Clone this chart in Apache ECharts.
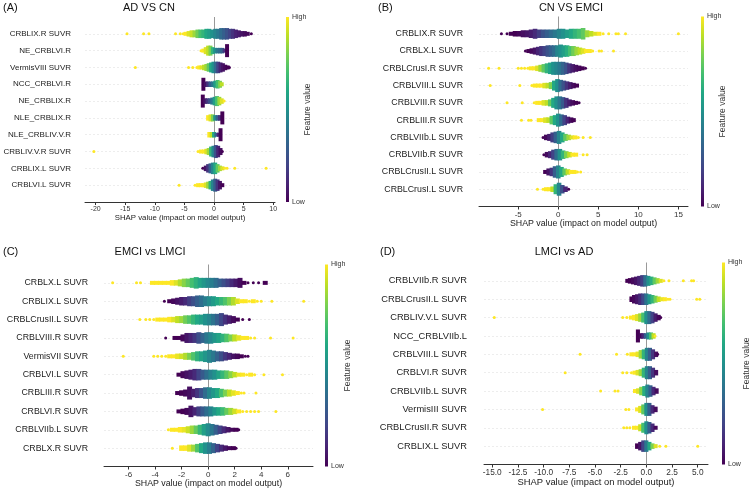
<!DOCTYPE html>
<html>
<head>
<meta charset="utf-8">
<title>SHAP summary</title>
<script src="https://cdn.jsdelivr.net/npm/echarts@6/dist/echarts.min.js"></script>
<style>
  html, body { margin: 0; padding: 0; background: #fff; }
  #main { width: 750px; height: 491px; }
</style>
</head>
<body>
<div id="main"></div>
<script>
// feature names (top to bottom) per panel
const featA = ['CRBLIX.R SUVR', 'NE_CRBLVI.R', 'VermisVIII SUVR', 'NCC_CRBLVI.R', 'NE_CRBLIX.R',
  'NLE_CRBLIX.R', 'NLE_CRBLIV.V.R', 'CRBLIV.V.R SUVR', 'CRBLIX.L SUVR', 'CRBLVI.L SUVR'];
const featB = ['CRBLIX.R SUVR', 'CRBLX.L SUVR', 'CRBLCrusI.R SUVR', 'CRBLVIII.L SUVR', 'CRBLVIII.R SUVR',
  'CRBLIII.R SUVR', 'CRBLVIIb.L SUVR', 'CRBLVIIb.R SUVR', 'CRBLCrusII.L SUVR', 'CRBLCrusI.L SUVR'];
const featC = ['CRBLX.L SUVR', 'CRBLIX.L SUVR', 'CRBLCrusII.L SUVR', 'CRBLVIII.R SUVR', 'VermisVII SUVR',
  'CRBLVI.L SUVR', 'CRBLIII.R SUVR', 'CRBLVI.R SUVR', 'CRBLVIIb.L SUVR', 'CRBLX.R SUVR'];
const featD = ['CRBLVIIb.R SUVR', 'CRBLCrusII.L SUVR', 'CRBLIV.V.L SUVR', 'NCC_CRBLVIIb.L', 'CRBLVIII.L SUVR',
  'CRBLVI.R SUVR', 'CRBLVIIb.L SUVR', 'VermisIII SUVR', 'CRBLCrusII.R SUVR', 'CRBLIX.L SUVR'];

// x tick labels
const ticksA = [-20, -15, -10, -5, 0, 5, 10];
const ticksB = [-5, 0, 5, 10, 15];
const ticksC = [-6, -4, -2, 0, 2, 4, 6];
const ticksD = [-15, -12.5, -10, -7.5, -5, -2.5, 0, 2.5, 5];

// swarm: [shap value, stack count, feature value 0..1]
const rowsA = [
  [[-14.7,1,1],[-11.9,1,1],[-11.0,1,1],[-6.5,1,1],[-5.7,1,1],[-5.2,1,1],[-4.8,2,1],[-4.3,3,0.95],[-3.8,4,0.92],[-3.3,4,0.85],[-2.8,5,0.78],[-2.3,5,0.7],[-1.8,5,0.65],[-1.3,6,0.6],[-0.8,6,0.55],[-0.3,5,0.5],[0.2,6,0.45],[0.7,6,0.4],[1.2,7,0.35],[1.7,7,0.3],[2.2,7,0.25],[2.7,6,0.2],[3.2,6,0.15],[3.7,5,0.1],[4.2,4,0.08],[4.7,3,0.05],[5.2,3,0.03],[5.7,2,0.02],[6.3,1,0]],
  [[-2.2,1,1],[-1.8,2,1],[-1.4,4,0.95],[-1.0,6,0.9],[-0.6,6,0.8],[-0.2,4,0.65],[0.2,3,0.5],[0.6,3,0.4],[1.0,3,0.35],[1.4,3,0.3],[1.8,2,0.15],[2.2,8,0]],
  [[-13.3,1,1],[-4.3,1,1],[-3.6,1,1],[-2.9,1,1],[-2.5,2,1],[-2.1,2,0.95],[-1.7,3,0.9],[-1.3,4,0.85],[-0.9,5,0.75],[-0.5,6,0.6],[-0.1,7,0.5],[0.3,7,0.35],[0.7,7,0.2],[1.1,6,0.1],[1.5,5,0.05],[1.9,3,0.02],[2.3,2,0],[2.6,1,0]],
  [[-1.8,8,0],[-1.4,3,0.05],[-1.0,3,0.15],[-0.6,3,0.3],[-0.2,3,0.4],[0.2,4,0.55],[0.6,5,0.7],[1.0,4,0.8],[1.3,2,0.9]],
  [[-1.9,8,0],[-1.5,3,0.05],[-1.1,3,0.15],[-0.7,3,0.25],[-0.3,4,0.4],[0.1,5,0.55],[0.5,6,0.7],[0.9,5,0.85],[1.3,3,0.95],[1.7,1,1]],
  [[-1.0,3,1],[-0.6,4,0.95],[-0.2,4,0.8],[0.2,3,0.5],[0.6,3,0.3],[1.0,3,0.15],[1.4,8,0]],
  [[-0.8,3,1],[-0.4,3,0.9],[0.0,3,0.6],[0.4,2,0.3],[0.8,2,0.1],[1.1,8,0]],
  [[-20.3,1,1],[-2.7,1,1],[-2.2,2,1],[-1.7,2,1],[-1.3,3,0.95],[-0.9,4,0.85],[-0.5,6,0.65],[-0.1,7,0.45],[0.3,8,0.25],[0.7,7,0.1],[1.1,4,0.03],[1.4,1,0]],
  [[-1.9,1,0],[-1.4,3,0.05],[-1.0,5,0.15],[-0.6,6,0.3],[-0.2,7,0.45],[0.2,7,0.6],[0.6,5,0.75],[1.0,3,0.85],[1.4,2,0.95],[1.8,1,1],[2.2,1,1],[3.5,1,1],[8.8,1,1]],
  [[-5.9,1,1],[-3.2,1,1],[-2.7,2,1],[-2.2,2,1],[-1.8,2,1],[-1.4,3,0.95],[-1.0,4,0.85],[-0.6,5,0.65],[-0.2,7,0.45],[0.2,8,0.3],[0.6,7,0.15],[1.0,5,0.05],[1.4,2,0]]
];
const rowsB = [
  [[-7.1,1,0],[-6.4,1,0],[-5.9,2,0],[-5.4,3,0],[-4.9,3,0.02],[-4.4,4,0.04],[-3.9,4,0.06],[-3.4,5,0.08],[-2.9,6,0.12],[-2.4,5,0.18],[-1.9,5,0.25],[-1.4,5,0.3],[-0.9,5,0.35],[-0.4,5,0.4],[0.1,6,0.45],[0.6,6,0.5],[1.1,5,0.55],[1.6,6,0.6],[2.1,6,0.65],[2.6,6,0.7],[3.1,7,0.75],[3.6,4,0.85],[4.1,3,0.9],[4.6,2,0.95],[5.1,2,1],[5.6,1,1],[6.3,1,1],[7.2,1,1],[7.5,1,1],[8.4,1,1],[15.0,1,1]],
  [[-4.1,1,0],[-3.7,2,0],[-3.3,3,0.02],[-2.9,4,0.05],[-2.5,5,0.1],[-2.1,6,0.15],[-1.7,6,0.2],[-1.3,7,0.25],[-0.9,7,0.3],[-0.5,7,0.35],[-0.1,7,0.45],[0.3,8,0.5],[0.7,7,0.55],[1.1,7,0.62],[1.5,6,0.7],[1.9,6,0.78],[2.3,5,0.85],[2.7,4,0.9],[3.1,3,0.95],[3.5,2,1],[3.9,2,1],[4.3,1,1],[5.1,1,1],[5.4,1,1],[6.9,1,1]],
  [[-8.7,1,1],[-7.4,1,1],[-5.0,1,1],[-4.6,1,1],[-4.2,1,1],[-3.8,1,1],[-3.4,2,1],[-3.0,2,1],[-2.6,3,0.95],[-2.2,4,0.85],[-1.8,5,0.75],[-1.4,6,0.65],[-1.0,7,0.58],[-0.6,8,0.5],[-0.2,8,0.45],[0.2,8,0.4],[0.6,8,0.32],[1.0,7,0.25],[1.4,6,0.15],[1.8,5,0.08],[2.2,4,0.04],[2.6,3,0.02],[3.0,2,0],[3.4,1,0]],
  [[-8.5,1,1],[-4.8,1,1],[-3.3,1,1],[-2.9,2,1],[-2.5,2,1],[-2.1,2,1],[-1.7,3,0.95],[-1.3,3,0.9],[-0.9,4,0.8],[-0.5,6,0.6],[-0.1,8,0.5],[0.3,7,0.35],[0.7,6,0.25],[1.1,5,0.15],[1.5,4,0.08],[1.9,3,0.03],[2.3,2,0]],
  [[-6.4,1,1],[-4.5,1,1],[-3.0,1,1],[-2.6,2,1],[-2.2,2,1],[-1.8,3,0.95],[-1.4,3,0.9],[-1.0,4,0.75],[-0.6,6,0.6],[-0.2,8,0.5],[0.2,8,0.4],[0.6,7,0.28],[1.0,6,0.15],[1.4,4,0.08],[1.8,3,0.03],[2.2,2,0],[2.6,1,0]],
  [[-4.6,1,1],[-3.7,1,1],[-3.4,1,1],[-2.4,2,1],[-2.0,2,1],[-1.6,3,0.95],[-1.2,3,0.9],[-0.8,5,0.75],[-0.4,6,0.6],[0.0,8,0.5],[0.4,7,0.35],[0.8,6,0.2],[1.2,4,0.1],[1.6,3,0.03],[1.9,2,0]],
  [[-1.9,1,0],[-1.5,3,0.02],[-1.1,4,0.08],[-0.7,6,0.18],[-0.3,7,0.3],[0.1,8,0.45],[0.5,6,0.6],[0.9,4,0.75],[1.3,3,0.85],[1.7,2,0.95],[2.1,2,1],[2.5,1,1],[3.1,1,1],[4.0,1,1]],
  [[-1.8,1,0],[-1.4,3,0.03],[-1.0,4,0.1],[-0.6,6,0.2],[-0.2,7,0.35],[0.2,7,0.5],[0.6,5,0.65],[1.0,4,0.8],[1.4,3,0.9],[1.8,2,1],[2.2,2,1],[3.1,1,1],[3.6,1,1]],
  [[-1.6,2,0],[-1.2,4,0.05],[-0.8,5,0.15],[-0.4,7,0.3],[0.0,8,0.45],[0.4,6,0.6],[0.8,4,0.75],[1.2,3,0.9],[1.6,2,1],[2.0,2,1],[2.4,1,1],[2.8,1,1]],
  [[-2.6,1,1],[-1.9,1,1],[-1.5,2,1],[-1.1,2,1],[-0.7,3,0.9],[-0.3,6,0.65],[0.1,8,0.45],[0.5,5,0.25],[0.9,3,0.1],[1.3,1,0]]
];
const rowsC = [
  [[-7.2,1,1],[-5.4,1,1],[-5.1,1,1],[-4.2,2,1],[-3.9,2,1],[-3.6,2,1],[-3.3,2,1],[-3.0,2,1],[-2.7,3,1],[-2.4,3,0.95],[-2.1,4,0.88],[-1.8,5,0.82],[-1.5,5,0.76],[-1.2,6,0.7],[-0.9,7,0.64],[-0.6,6,0.58],[-0.3,6,0.52],[0,6,0.47],[0.3,6,0.42],[0.6,6,0.36],[0.9,5,0.3],[1.2,5,0.24],[1.5,5,0.18],[1.8,5,0.12],[2.1,5,0.07],[2.4,6,0.03],[2.7,2,0],[3.0,1,0],[3.4,1,0],[3.8,1,0],[4.3,2,0]],
  [[-3.3,1,0],[-2.9,2,0],[-2.6,3,0.02],[-2.3,4,0.05],[-2.0,5,0.08],[-1.7,5,0.12],[-1.4,6,0.18],[-1.1,6,0.24],[-0.8,7,0.3],[-0.5,7,0.36],[-0.2,6,0.42],[0.1,6,0.48],[0.4,6,0.54],[0.7,5,0.6],[1.0,5,0.66],[1.3,5,0.72],[1.6,5,0.8],[1.9,5,0.88],[2.2,3,0.95],[2.5,2,1],[2.8,2,1],[3.1,1,1],[3.4,2,1],[3.7,1,1],[4.0,1,1],[4.8,1,1],[7.2,1,1]],
  [[-5.15,1,1],[-4.7,1,1],[-4.4,1,1],[-4.1,1,1],[-3.8,2,1],[-3.5,2,1],[-3.2,2,1],[-2.9,3,1],[-2.6,3,0.95],[-2.3,4,0.9],[-2.0,4,0.85],[-1.7,5,0.78],[-1.4,5,0.72],[-1.1,6,0.66],[-0.8,6,0.6],[-0.5,6,0.55],[-0.2,7,0.5],[0.1,7,0.45],[0.4,7,0.38],[0.7,7,0.3],[1.0,8,0.22],[1.3,6,0.14],[1.6,5,0.08],[1.9,4,0.03],[2.2,2,0],[2.6,1,0],[3.1,1,0]],
  [[-3.2,1,0],[-2.5,2,0],[-2.2,2,0],[-1.9,4,0.02],[-1.6,6,0.06],[-1.3,6,0.1],[-1.0,6,0.16],[-0.7,7,0.24],[-0.4,6,0.32],[-0.1,7,0.4],[0.2,7,0.46],[0.5,6,0.52],[0.8,6,0.58],[1.1,5,0.64],[1.4,5,0.72],[1.7,4,0.8],[2.0,4,0.9],[2.3,3,0.96],[2.6,2,1],[2.9,2,1],[3.2,1,1],[3.5,1,1],[4.7,1,1],[6.4,1,1]],
  [[-6.4,1,1],[-4.1,1,1],[-3.8,1,1],[-3.5,1,1],[-3.2,1,1],[-2.9,2,1],[-2.6,2,1],[-2.3,3,0.97],[-2.0,3,0.93],[-1.7,4,0.88],[-1.4,4,0.8],[-1.1,5,0.72],[-0.8,6,0.64],[-0.5,6,0.58],[-0.2,7,0.52],[0.1,8,0.46],[0.4,7,0.4],[0.7,6,0.32],[1.0,6,0.24],[1.3,5,0.16],[1.6,4,0.1],[1.9,3,0.05],[2.2,3,0.02],[2.5,2,0],[2.8,1,0],[3.0,1,0]],
  [[-2.2,2,0],[-1.9,4,0.02],[-1.6,5,0.05],[-1.3,6,0.08],[-1.0,7,0.12],[-0.7,7,0.2],[-0.4,6,0.28],[-0.1,6,0.36],[0.2,6,0.44],[0.5,6,0.5],[0.8,5,0.58],[1.1,5,0.66],[1.4,5,0.74],[1.7,4,0.82],[2.0,3,0.9],[2.3,2,0.97],[2.6,2,1],[2.9,1,1],[3.2,2,1],[3.5,1,1],[4.2,1,1],[5.6,1,1]],
  [[-2.3,2,0],[-2.0,3,0],[-1.7,4,0.02],[-1.4,8,0.04],[-1.1,5,0.08],[-0.8,6,0.15],[-0.5,6,0.25],[-0.2,7,0.35],[0.1,7,0.45],[0.4,6,0.52],[0.7,6,0.6],[1.0,5,0.7],[1.3,4,0.8],[1.6,4,0.9],[1.9,3,0.96],[2.2,2,1],[2.5,1,1],[2.7,1,1],[3.6,1,1]],
  [[-2.2,2,0],[-1.9,3,0],[-1.6,4,0.02],[-1.3,7,0.05],[-1.0,5,0.1],[-0.7,6,0.18],[-0.4,6,0.28],[-0.1,6,0.36],[0.2,6,0.44],[0.5,5,0.52],[0.8,5,0.6],[1.1,5,0.68],[1.4,4,0.76],[1.7,4,0.85],[2.0,3,0.93],[2.3,2,1],[2.6,1,1],[2.9,1,1],[3.2,1,1],[3.5,1,1],[3.8,1,1],[5.1,1,1]],
  [[-3.0,1,1],[-2.7,2,1],[-2.4,2,1],[-2.1,3,1],[-1.8,3,0.97],[-1.5,4,0.92],[-1.2,5,0.85],[-0.9,5,0.76],[-0.6,6,0.66],[-0.3,7,0.56],[0.0,8,0.48],[0.3,7,0.4],[0.6,6,0.3],[0.9,5,0.2],[1.2,4,0.12],[1.5,3,0.06],[1.8,2,0.02],[2.1,2,0],[2.3,1,0]],
  [[-2.7,1,1],[-2.0,3,1],[-1.7,3,1],[-1.4,4,0.95],[-1.1,4,0.85],[-0.8,5,0.72],[-0.5,6,0.6],[-0.2,7,0.5],[0.1,7,0.42],[0.4,6,0.32],[0.7,5,0.2],[1.0,4,0.12],[1.3,3,0.06],[1.6,2,0.02],[1.9,2,0],[2.1,1,0]]
];
const rowsD = [
  [[-1.85,2,0],[-1.6,3,0],[-1.3,4,0.02],[-1.0,5,0.05],[-0.7,6,0.1],[-0.4,7,0.18],[-0.1,7,0.35],[0.2,6,0.5],[0.5,5,0.62],[0.8,4,0.75],[1.1,3,0.85],[1.4,2,0.95],[1.7,1,1],[2.2,1,1],[3.6,1,1],[4.4,1,1],[4.6,1,1]],
  [[-1.45,3,0],[-1.2,5,0.02],[-0.9,6,0.06],[-0.6,7,0.12],[-0.3,7,0.22],[0.0,7,0.38],[0.3,6,0.52],[0.6,5,0.65],[0.9,4,0.78],[1.2,3,0.9],[1.5,2,0.97],[1.8,2,1],[2.1,1,1],[2.3,1,1],[4.9,1,1],[5.2,1,1]],
  [[-14.8,1,1],[-2.3,1,1],[-1.9,1,1],[-1.5,2,1],[-1.2,3,1],[-0.9,4,0.95],[-0.6,5,0.85],[-0.3,6,0.7],[0.0,8,0.5],[0.3,8,0.35],[0.6,7,0.2],[0.9,5,0.08],[1.2,3,0.02],[1.4,1,0]],
  [[-0.82,8,0],[-0.55,3,0.02],[-0.3,3,0.1],[-0.05,3,0.3],[0.2,4,0.5],[0.45,4,0.7],[0.7,3,0.9],[0.85,1,1]],
  [[-6.45,1,1],[-2.9,1,1],[-1.85,1,1],[-1.45,2,1],[-1.15,2,1],[-0.85,3,0.97],[-0.55,5,0.85],[-0.25,6,0.65],[0.05,8,0.45],[0.35,8,0.3],[0.65,6,0.15],[0.95,3,0.04],[1.1,1,0]],
  [[-7.9,1,1],[-2.3,1,1],[-1.9,1,1],[-1.45,1,1],[-1.15,2,1],[-0.85,3,0.95],[-0.55,4,0.85],[-0.25,6,0.65],[0.05,8,0.45],[0.35,8,0.3],[0.65,6,0.15],[0.95,3,0.04]],
  [[-4.45,1,1],[-3.05,1,1],[-2.75,1,1],[-1.1,2,1],[-0.8,3,0.95],[-0.5,5,0.82],[-0.2,6,0.62],[0.1,8,0.45],[0.4,7,0.3],[0.7,5,0.12],[1.0,3,0.03]],
  [[-10.1,1,1],[-2.0,1,1],[-1.7,1,1],[-0.9,2,1],[-0.6,4,0.95],[-0.3,6,0.75],[0.0,8,0.5],[0.3,8,0.3],[0.6,5,0.12],[0.9,3,0.03]],
  [[-2.2,1,1],[-1.9,1,1],[-1.6,1,1],[-1.2,2,1],[-0.9,2,1],[-0.6,4,0.92],[-0.3,6,0.7],[0.0,8,0.5],[0.3,7,0.3],[0.6,5,0.12],[0.9,2,0.02]],
  [[-0.9,3,0],[-0.6,5,0.05],[-0.3,7,0.2],[0.0,7,0.4],[0.3,5,0.6],[0.6,3,0.8],[0.9,2,0.95],[1.3,1,1],[1.9,1,1],[5.0,1,1]]
];

const titles = ['AD VS CN', 'CN VS EMCI', 'EMCI vs LMCI', 'LMCI vs AD'];
const letters = ['(A)', '(B)', '(C)', '(D)'];

// layout of the four panels (pixels)
const panels = [
  { feat: featA, rows: rowsA, ticks: ticksA, dec: 0, left: 85, width: 190, top: 17, height: 185,
    xmin: -21.8, xmax: 10.3, bin: 0.5, lf: 8, tf: 7, nf: 7.8, lm: 14, ng: 12, cb: 286, fv: 308, tx: 149, ty: 8, lx: 3 },
  { feat: featB, rows: rowsB, ticks: ticksB, dec: 0, left: 479, width: 209, top: 16.5, height: 190,
    xmin: -9.9, xmax: 16.2, bin: 0.45, lf: 8.8, tf: 8, nf: 8.8, lm: 16, ng: 11, cb: 701, fv: 723, tx: 571, ty: 8, lx: 378 },
  { feat: featC, rows: rowsC, ticks: ticksC, dec: 0, left: 104, width: 209, top: 264.5, height: 202,
    xmin: -7.85, xmax: 7.9, bin: 0.3, lf: 8.8, tf: 8, nf: 8.8, lm: 16, ng: 13, cb: 325, fv: 348, tx: 150, ty: 252, lx: 3 },
  { feat: featD, rows: rowsD, ticks: ticksD, dec: 1, left: 484, width: 224, top: 262.5, height: 202,
    xmin: -15.8, xmax: 6.0, bin: 0.3, lf: 9.3, tf: 8.3, nf: 9.4, lm: 17, ng: 13, cb: 722, fv: 747, tx: 564, ty: 252, lx: 380 }
];

const FONT = "'Liberation Sans', Arial, sans-serif";
const viridis = ['#440154', '#482475', '#414487', '#355f8d', '#2a788e', '#21918c',
  '#22a884', '#44bf70', '#7ad151', '#bddf26', '#fde725'];

const chart = echarts.init(document.getElementById('main'), null, { renderer: 'canvas' });

const grid = [], xAxis = [], yAxis = [], series = [], visualMap = [], graphic = [];

panels.forEach((p, i) => {
  grid.push({ left: p.left, top: p.top, width: p.width, height: p.height });
  xAxis.push({
    type: 'value', gridIndex: i, min: p.xmin, max: p.xmax,
    name: 'SHAP value (impact on model output)', nameLocation: 'middle', nameGap: p.ng,
    nameTextStyle: { fontFamily: FONT, fontSize: p.nf, color: '#222' },
    axisLine: { show: true, onZero: false, lineStyle: { color: '#333', width: 1 } },
    axisTick: { show: true, length: 3, customValues: p.ticks, lineStyle: { color: '#333' } },
    axisLabel: { customValues: p.ticks, margin: 4, fontFamily: FONT, fontSize: p.tf, color: '#333',
      formatter: v => Number(v).toFixed(p.dec) },
    splitLine: { show: false }
  });
  yAxis.push({
    type: 'value', gridIndex: i, min: -1, max: 10, interval: 1, inverse: true,
    axisLine: { show: false }, axisTick: { show: false }, splitLine: { show: false },
    axisLabel: { margin: p.lm, fontFamily: FONT, fontSize: p.lf, color: '#222',
      formatter: v => (v >= 0 && v < p.feat.length) ? p.feat[v] : '' }
  });

  const data = [];
  p.rows.forEach((bins, r) => bins.forEach(b => data.push([b[0], r, b[1], b[2]])));

  const rowLines = p.feat.map((f, r) => ({ yAxis: r, lineStyle: { color: '#ededed', type: [2, 2], width: 1 } }));
  rowLines.push({ xAxis: 0, lineStyle: { color: '#999', type: 'solid', width: 1 } });

  series.push({
    type: 'custom', xAxisIndex: i, yAxisIndex: i, data: data,
    encode: { x: 0, y: 1 },
    renderItem: (params, api) => {
      const c = api.coord([api.value(0), api.value(1)]);
      const n = api.value(2);
      const color = api.visual('color');
      if (n <= 1) {
        return { type: 'circle', shape: { cx: c[0], cy: c[1], r: 1.5 }, style: { fill: color } };
      }
      const bw = api.size([p.bin, 0])[0] + 1;
      const h = n * 1.5 + 1;
      return { type: 'rect', shape: { x: c[0] - bw / 2, y: c[1] - h / 2, width: bw, height: h },
        style: { fill: color } };
    },
    markLine: { silent: true, symbol: 'none', z: 1, label: { show: false }, data: rowLines },
    z: 2
  });

  visualMap.push({ show: false, type: 'continuous', seriesIndex: i, dimension: 3, min: 0, max: 1,
    inRange: { color: viridis } });

  // colour bar
  graphic.push({
    type: 'rect', shape: { x: p.cb, y: p.top, width: 3, height: p.height },
    style: { fill: new echarts.graphic.LinearGradient(0, 1, 0, 0,
      viridis.map((c, k) => ({ offset: k / (viridis.length - 1), color: c }))) }
  });
  graphic.push({ type: 'text', x: p.cb + 6, y: p.top, style: { text: 'High', font: `7px ${FONT}`, fill: '#333', textVerticalAlign: 'middle' } });
  graphic.push({ type: 'text', x: p.cb + 6, y: p.top + p.height, style: { text: 'Low', font: `7px ${FONT}`, fill: '#333', textVerticalAlign: 'middle' } });
  graphic.push({ type: 'text', x: p.fv, y: p.top + p.height / 2, rotation: Math.PI / 2,
    style: { text: 'Feature value', font: `8.5px ${FONT}`, fill: '#333', textAlign: 'center', textVerticalAlign: 'middle' } });
  // titles
  graphic.push({ type: 'text', x: p.tx, y: p.ty, style: { text: titles[i], font: `11px ${FONT}`, fill: '#111', textAlign: 'center', textVerticalAlign: 'middle' } });
  graphic.push({ type: 'text', x: p.lx, y: p.ty, style: { text: letters[i], font: `11px ${FONT}`, fill: '#111', textVerticalAlign: 'middle' } });
});

chart.setOption({
  animation: false,
  backgroundColor: '#fff',
  grid, xAxis, yAxis, series, visualMap, graphic
});
</script>
</body>
</html>
